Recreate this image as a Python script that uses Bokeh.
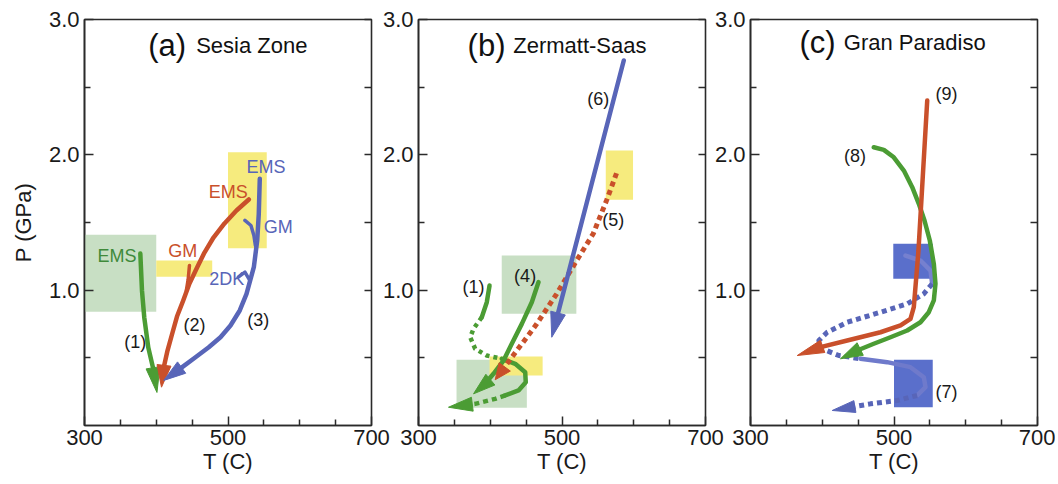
import math
from bokeh.plotting import figure
from bokeh.models import FixedTicker, LinearAxis, PrintfTickFormatter
from bokeh.layouts import row
from bokeh.embed import file_html
from bokeh.resources import INLINE
from bokeh.core.properties import value

FONT = "Liberation Sans"

# ---------------- data ----------------
T_RANGE = (300, 700)
P_RANGE = (0.0, 3.0)
x_ticks = [300, 500, 700]
x_minor = [350, 400, 450, 550, 600, 650]
y_ticks = [1.0, 2.0, 3.0]
y_minor = [0.5, 1.5, 2.5]

panel_letters = ["(a)", "(b)", "(c)"]
panel_names = ["Sesia Zone", "Zermatt-Saas", "Gran Paradiso"]

# Panel (a) Sesia Zone : boxes as [Tmin, Tmax, Pmin, Pmax]
a_green_box = [300, 400, 0.84, 1.41]
a_yellow_box_low = [400, 478, 1.10, 1.22]
a_yellow_box_high = [500, 554, 1.31, 2.02]
a1_T = [377.8, 380.1, 383.3, 388.9, 395.4, 401.0]
a1_P = [1.271, 0.998, 0.798, 0.576, 0.429, 0.244]
a2_T = [529.0, 511.8, 495.1, 479.8, 467.2, 457.1, 446.3, 437.6, 428.9, 422.2, 415.7, 410.5, 407.3]
a2_P = [1.670, 1.589, 1.493, 1.389, 1.278, 1.170, 1.049, 0.924, 0.805, 0.678, 0.554, 0.431, 0.283]
a2_gm_T = [446.3, 444.5, 442.0]
a2_gm_P = [1.182, 1.080, 1.000]
a3_T = [544.3, 542.9, 540.7, 536.0, 525.8, 516.4, 503.5, 489.5, 473.2, 454.7, 436.2, 419.9, 410.5]
a3_P = [1.823, 1.564, 1.367, 1.170, 0.973, 0.850, 0.739, 0.652, 0.578, 0.504, 0.431, 0.369, 0.333]
a3_gm_T = [523.6, 532.0, 536.1, 538.2]
a3_gm_P = [1.515, 1.478, 1.404, 1.330]
a3_dk_T = [514.3, 523.6, 530.6]
a3_dk_P = [1.096, 1.133, 1.071]
a_tag_T = [345.4, 437.1, 500.4, 552.8, 569.9, 498.2]
a_tag_P = [1.256, 1.293, 1.724, 1.909, 1.470, 1.084]
a_tag_text = ["EMS", "GM", "EMS", "EMS", "GM", "2DK"]
a_num_T = [370.8, 453.2, 542.1]
a_num_P = [0.616, 0.739, 0.776]
a_num_text = ["(1)", "(2)", "(3)"]

# Panel (b) Zermatt-Saas
b_yellow_box_high = [561, 599, 1.668, 2.032]
b_green_box_high = [416, 520, 0.825, 1.256]
b_green_box_low = [353, 451, 0.131, 0.485]
b_yellow_box_low = [399, 473, 0.369, 0.510]
b6_T = [586.1, 485.7]
b6_P = [2.697, 0.652]
b5_T = [576.0, 562.1, 543.5, 520.4, 492.6, 464.9, 437.1, 406.9]
b5_P = [1.864, 1.663, 1.417, 1.219, 0.973, 0.751, 0.554, 0.338]
b4_T = [467.2, 457.9, 444.0, 430.0, 418.5, 404.5, 390.6, 376.7]
b4_P = [1.059, 0.911, 0.751, 0.604, 0.480, 0.382, 0.296, 0.234]
b1_T = [399.0, 395.2, 388.2, 376.7, 372.1, 379.0, 395.2, 416.1,
        434.8, 448.7, 449.5, 439.4, 420.8, 406.9, 379.0, 341.8]
b1_P = [1.034, 0.911, 0.800, 0.715, 0.652, 0.567, 0.517, 0.493,
        0.456, 0.394, 0.320, 0.259, 0.222, 0.197, 0.160, 0.135]
b_num_T = [550.4, 571.3, 448.6, 376.8]
b_num_P = [2.414, 1.515, 1.108, 1.027]
b_num_text = ["(6)", "(5)", "(4)", "(1)"]

# Panel (c) Gran Paradiso
c_blue_box_high = [499, 554, 1.084, 1.343]
c_blue_box_low = [500, 554, 0.135, 0.485]
c9_T = [546.3, 534.1, 527.6, 523.0, 509.1, 481.2, 434.8, 397.6, 365.1]
c9_P = [2.401, 1.293, 0.874, 0.788, 0.739, 0.689, 0.628, 0.579, 0.517]
c8_T = [471.8, 485.8, 499.7, 513.7, 525.4, 534.6, 542.5, 549.9, 555.5, 557.8,
        555.5, 548.5, 536.9, 518.4, 495.1, 471.8, 448.7, 425.4]
c8_P = [2.056, 2.037, 1.982, 1.884, 1.761, 1.638, 1.515, 1.367, 1.195, 1.047,
        0.924, 0.837, 0.763, 0.702, 0.652, 0.604, 0.554, 0.493]
c7_T = [516.0, 536.9, 550.9, 553.2, 541.5, 518.4, 481.2, 434.8, 406.9, 395.2, 399.9,
        423.1, 453.3, 490.5, 523.0, 541.5, 543.9, 532.3, 504.5, 467.2, 413.9]
c7_P = [1.256, 1.219, 1.145, 1.047, 0.973, 0.899, 0.837, 0.763, 0.689, 0.628, 0.567,
        0.517, 0.493, 0.468, 0.431, 0.357, 0.283, 0.222, 0.185, 0.160, 0.111]
c_num_T = [573.2, 445.8, 573.2]
c_num_P = [2.451, 1.995, 0.246]
c_num_text = ["(9)", "(8)", "(7)"]

# ---------------- styling ----------------
GREEN = "#4b9c34"
GREEN_TXT = "#3f8a3a"
RED = "#c9502b"
BLUE = "#5865b8"
YELLOW = "#f6eb7e"
GREEN_BOX = "#c8dfc4"
BLUE_BOX = "#5a6fcb"
AX = "#2a2a2a"

FRAME_W, FRAME_H = 287, 406
TOP, HEIGHT = 19, 482
SX = FRAME_W / (T_RANGE[1] - T_RANGE[0])
SY = FRAME_H / (P_RANGE[1] - P_RANGE[0])


def make_fig(left, right, ylabel=None):
    p = figure(width=left + FRAME_W + right, height=HEIGHT,
               x_range=T_RANGE, y_range=P_RANGE,
               output_backend="svg", toolbar_location=None,
               min_border_left=left, min_border_right=right,
               min_border_top=TOP, min_border_bottom=HEIGHT - TOP - FRAME_H)
    p.grid.visible = False
    p.outline_line_color = AX
    p.outline_line_width = 1.6
    p.background_fill_color = "white"
    xa = p.xaxis[0]
    xa.ticker = FixedTicker(ticks=x_ticks, minor_ticks=x_minor)
    xa.axis_label = "T (C)"
    ya = p.yaxis[0]
    ya.ticker = FixedTicker(ticks=y_ticks, minor_ticks=y_minor)
    ya.formatter = PrintfTickFormatter(format="%.1f")
    if ylabel:
        ya.axis_label = ylabel
        ya.axis_label_standoff = 10
    for ax in (xa, ya):
        ax.axis_line_color = AX
        ax.axis_line_width = 1.6
        ax.major_tick_line_color = AX
        ax.minor_tick_line_color = AX
        ax.major_tick_line_width = 1.5
        ax.minor_tick_line_width = 1.5
        ax.major_tick_in = 9
        ax.major_tick_out = 0
        ax.minor_tick_in = 6
        ax.minor_tick_out = 0
        ax.major_label_text_font = FONT
        ax.major_label_text_font_size = "22px"
        ax.major_label_text_color = "#1a1a1a"
        ax.axis_label_text_font = FONT
        ax.axis_label_text_font_size = "22px"
        ax.axis_label_text_font_style = "normal"
        ax.axis_label_text_color = "#1a1a1a"
    xa.major_label_standoff = 4
    xa.axis_label_standoff = 1
    ya.major_label_standoff = 5
    ra = LinearAxis(ticker=FixedTicker(ticks=y_ticks + y_minor),
                    major_label_text_font_size="1px", major_label_text_color=None,
                    major_label_standoff=0,
                    axis_line_color=None, major_tick_line_color=AX,
                    major_tick_line_width=1.5, major_tick_in=7, major_tick_out=0,
                    minor_tick_line_color=None)
    p.add_layout(ra, "right")
    return p


def box(p, b, color, alpha=1.0):
    p.quad(left=[b[0]], right=[b[1]], bottom=[b[2]], top=[b[3]],
           fill_color=color, fill_alpha=alpha, line_color=None)


def arrow_geom(T, P, L, W):
    tx, ty = T[-1] * SX, P[-1] * SY
    px, py = T[-2] * SX, P[-2] * SY
    dx, dy = tx - px, ty - py
    d = math.hypot(dx, dy)
    ux, uy = dx / d, dy / d
    bx, by = tx - ux * L, ty - uy * L
    nx, ny = -uy, ux
    tri_T = [T[-1], (bx + nx * W) / SX, (bx - nx * W) / SX]
    tri_P = [P[-1], (by + ny * W) / SY, (by - ny * W) / SY]
    end_T = (tx - ux * L * 0.6) / SX
    end_P = (ty - uy * L * 0.6) / SY
    return tri_T, tri_P, end_T, end_P


def path(p, T, P, color, width=4.5, dash="solid", head=True, L=22, W=7, alpha=1.0):
    T, P = list(T), list(P)
    if head:
        tri_T, tri_P, eT, eP = arrow_geom(T, P, L, W)
        T[-1], P[-1] = eT, eP
    cap = "round" if dash == "solid" else "butt"
    p.line(T, P, line_color=color, line_width=width, line_dash=dash,
           line_cap=cap, line_join="round", line_alpha=alpha)
    if head:
        p.patch(tri_T, tri_P, fill_color=color, line_color=color, line_width=1,
                line_join="miter")


def labels(p, T, P, texts, color, size="18px", align="center"):
    p.text(x=T, y=P, text=texts, text_font=value(FONT), text_font_size=size,
           text_color=color, text_align=align, text_baseline="middle")


def title(p, i, letter_T, name_T, y):
    p.text(x=[letter_T], y=[y], text=[panel_letters[i]], text_font=value(FONT),
           text_font_size="31px", text_color="#111111", text_align="center",
           text_baseline="middle")
    p.text(x=[name_T], y=[y], text=[panel_names[i]], text_font=value(FONT),
           text_font_size="22px", text_color="#111111", text_align="left",
           text_baseline="middle")


# ---------------- panel (a) ----------------
pa = make_fig(84, 20, ylabel="P (GPa)")
box(pa, a_green_box, GREEN_BOX)
box(pa, a_yellow_box_low, YELLOW)
box(pa, a_yellow_box_high, YELLOW)
path(pa, a1_T, a1_P, GREEN, L=25, W=7)
path(pa, a2_T, a2_P, RED, L=22, W=7)
path(pa, a2_gm_T, a2_gm_P, RED, width=3.5, head=False)
path(pa, a3_T, a3_P, BLUE, L=22, W=7)
path(pa, a3_gm_T, a3_gm_P, BLUE, width=3.5, head=False)
path(pa, a3_dk_T, a3_dk_P, BLUE, width=3.5, head=False)
labels(pa, a_tag_T[:1], a_tag_P[:1], a_tag_text[:1], GREEN_TXT)
labels(pa, a_tag_T[1:3], a_tag_P[1:3], a_tag_text[1:3], RED)
labels(pa, a_tag_T[3:], a_tag_P[3:], a_tag_text[3:], BLUE)
labels(pa, a_num_T, a_num_P, a_num_text, "#1a1a1a")
title(pa, 0, 415.3, 455.6, 2.808)

# ---------------- panel (b) ----------------
pb = make_fig(46, 20)
pb.border_fill_color = None
pb.margin = (0, 0, 0, -19)
box(pb, b_yellow_box_high, YELLOW)
box(pb, b_green_box_high, GREEN_BOX)
box(pb, b_green_box_low, GREEN_BOX)
box(pb, b_yellow_box_low, YELLOW)
path(pb, b1_T[:3], b1_P[:3], GREEN, head=False)
path(pb, b1_T[2:8], b1_P[2:8], GREEN, dash="4 4", head=False)
path(pb, b1_T[7:13], b1_P[7:13], GREEN, head=False)
path(pb, b1_T[12:], b1_P[12:], GREEN, dash="5 4", L=24, W=7)
path(pb, b4_T, b4_P, GREEN, L=22, W=7)
path(pb, b5_T, b5_P, RED, width=5, dash="5 4", L=16, W=7)
path(pb, b6_T, b6_P, BLUE, L=25, W=7.5)
labels(pb, b_num_T, b_num_P, b_num_text, "#1a1a1a")
title(pb, 1, 394.8, 432.0, 2.808)

# ---------------- panel (c) ----------------
pc = make_fig(46, 18)
pc.border_fill_color = None
pc.margin = (0, 0, 0, -21)
box(pc, c_blue_box_high, BLUE_BOX)
box(pc, c_blue_box_low, BLUE_BOX)
path(pc, c7_T[:4], c7_P[:4], "#7680cf", head=False)
path(pc, c7_T[3:13], c7_P[3:13], BLUE, width=5, dash="5 4", head=False)
path(pc, c7_T[12:18], c7_P[12:18], "#6f7acb", head=False)
path(pc, c7_T[17:], c7_P[17:], BLUE, width=5, dash="5 4", L=23, W=6)
path(pc, c8_T, c8_P, GREEN, L=22, W=7)
path(pc, c9_T, c9_P, RED, L=27, W=6.5)
labels(pc, c_num_T, c_num_P, c_num_text, "#1a1a1a")
title(pc, 2, 393.4, 430.0, 2.830)

layout = row(pa, pb, pc)
open("out.html", "w").write(file_html(layout, INLINE))
